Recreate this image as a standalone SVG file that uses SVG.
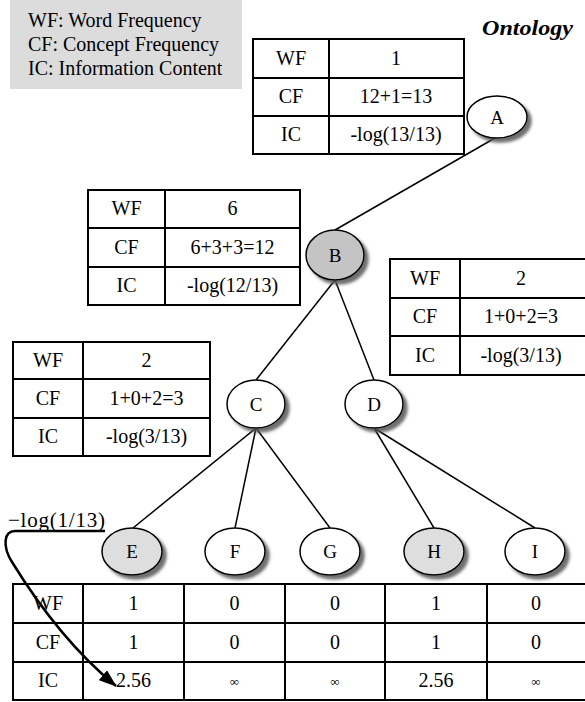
<svg xmlns="http://www.w3.org/2000/svg" width="585" height="702" viewBox="0 0 585 702" font-family="'Liberation Serif', 'DejaVu Serif', serif">
<style>
text{font-family:'Liberation Serif','DejaVu Serif',serif;fill:#000}
.t{font-size:20px;text-anchor:middle}
.n{font-size:19px;text-anchor:middle}
.inf{font-size:13px;text-anchor:middle}
.leg{font-size:20px}
.tb{fill:#fff;stroke:#000;stroke-width:2}
.gl{stroke:#000;stroke-width:2;fill:none}
.nd{stroke:#000;stroke-width:1.5;fill:#fff}
.g1{fill:#c4c4c4}
.g2{fill:#dedede}
.cn{stroke:#000;stroke-width:1.5;fill:none}
</style>
<defs>
<filter id="sh" x="-20%" y="-20%" width="150%" height="150%">
<feDropShadow dx="4" dy="4" stdDeviation="1.5" flood-color="#555" flood-opacity="0.85"/>
</filter>
<marker id="ah" markerWidth="18" markerHeight="13" refX="17" refY="6.5" orient="auto" markerUnits="userSpaceOnUse">
<path d="M0,0 L18,6.5 L0,13 z" fill="#000"/>
</marker>
</defs>

<g id="legend">
<rect x="10" y="0" width="232" height="89" fill="#dcdcdc"/>
<text class="leg" x="28" y="27">WF: Word Frequency</text>
<text class="leg" x="28" y="51">CF: Concept Frequency</text>
<text class="leg" x="28" y="75">IC: Information Content</text>
</g>

<g id="title">
<text x="482" y="35" font-size="21" font-weight="bold" font-style="italic" textLength="91" lengthAdjust="spacingAndGlyphs">Ontology</text>
</g>

<g id="connectors">
<line class="cn" x1="495" y1="138" x2="335" y2="230"/>
<line class="cn" x1="335" y1="280" x2="256" y2="380"/>
<line class="cn" x1="335" y1="280" x2="374" y2="380"/>
<line class="cn" x1="256" y1="428" x2="133" y2="528"/>
<line class="cn" x1="256" y1="428" x2="235" y2="528"/>
<line class="cn" x1="256" y1="428" x2="330" y2="528"/>
<line class="cn" x1="374" y1="428" x2="434" y2="528"/>
<line class="cn" x1="374" y1="428" x2="535" y2="528"/>
<path d="M105,531 H15 C4,531 2,546 12,562 Q60,640 116,686" stroke="#000" stroke-width="2.5" fill="none" marker-end="url(#ah)"/>
</g>

<g id="tableA">
<rect class="tb" x="253" y="39" width="211" height="115"/>
<line class="gl" x1="329" y1="39" x2="329" y2="154"/>
<line class="gl" x1="253" y1="78" x2="464" y2="78"/>
<line class="gl" x1="253" y1="116" x2="464" y2="116"/>
<text class="t" x="291" y="65">WF</text><text class="t" x="396" y="65">1</text>
<text class="t" x="291" y="103">CF</text><text class="t" x="396" y="103">12+1=13</text>
<text class="t" x="291" y="141">IC</text><text class="t" x="396" y="141">-log(13/13)</text>
</g>

<g id="tableB">
<rect class="tb" x="88" y="190" width="212" height="115"/>
<line class="gl" x1="165" y1="190" x2="165" y2="305"/>
<line class="gl" x1="88" y1="228" x2="300" y2="228"/>
<line class="gl" x1="88" y1="267" x2="300" y2="267"/>
<text class="t" x="126.5" y="215">WF</text><text class="t" x="232.5" y="215">6</text>
<text class="t" x="126.5" y="254">CF</text><text class="t" x="232.5" y="254">6+3+3=12</text>
<text class="t" x="126.5" y="292">IC</text><text class="t" x="232.5" y="292">-log(12/13)</text>
</g>

<g id="tableD">
<rect class="tb" x="390" y="259" width="200" height="116"/>
<line class="gl" x1="460" y1="259" x2="460" y2="375"/>
<line class="gl" x1="390" y1="298" x2="590" y2="298"/>
<line class="gl" x1="390" y1="336" x2="590" y2="336"/>
<text class="t" x="425" y="285">WF</text><text class="t" x="521" y="285">2</text>
<text class="t" x="425" y="323">CF</text><text class="t" x="521" y="323">1+0+2=3</text>
<text class="t" x="425" y="362">IC</text><text class="t" x="521" y="362">-log(3/13)</text>
</g>

<g id="tableC">
<rect class="tb" x="13" y="342" width="197" height="114"/>
<line class="gl" x1="83" y1="342" x2="83" y2="456"/>
<line class="gl" x1="13" y1="379" x2="210" y2="379"/>
<line class="gl" x1="13" y1="418" x2="210" y2="418"/>
<text class="t" x="48" y="367">WF</text><text class="t" x="146.5" y="367">2</text>
<text class="t" x="48" y="405">CF</text><text class="t" x="146.5" y="405">1+0+2=3</text>
<text class="t" x="48" y="443">IC</text><text class="t" x="146.5" y="443">-log(3/13)</text>
</g>

<g id="nodeA"><ellipse class="nd" cx="497" cy="117" rx="30" ry="21" filter="url(#sh)"/><text class="n" x="497" y="124">A</text></g>
<g id="nodeB"><ellipse class="nd g1" cx="335" cy="255" rx="29" ry="25" filter="url(#sh)"/><text class="n" x="335" y="262">B</text></g>
<g id="nodeC"><ellipse class="nd" cx="256" cy="404" rx="29" ry="24" filter="url(#sh)"/><text class="n" x="256" y="411">C</text></g>
<g id="nodeD"><ellipse class="nd" cx="374" cy="404" rx="29" ry="24" filter="url(#sh)"/><text class="n" x="374" y="411">D</text></g>
<g id="nodeE"><ellipse class="nd g2" cx="132" cy="551.5" rx="30" ry="23.5" filter="url(#sh)"/><text class="n" x="132" y="558">E</text></g>
<g id="nodeF"><ellipse class="nd" cx="235" cy="551.5" rx="30" ry="23.5" filter="url(#sh)"/><text class="n" x="235" y="558">F</text></g>
<g id="nodeG"><ellipse class="nd" cx="330" cy="551.5" rx="30" ry="23.5" filter="url(#sh)"/><text class="n" x="330" y="558">G</text></g>
<g id="nodeH"><ellipse class="nd g2" cx="434" cy="551.5" rx="30" ry="23.5" filter="url(#sh)"/><text class="n" x="434" y="558">H</text></g>
<g id="nodeI"><ellipse class="nd" cx="535" cy="551.5" rx="30" ry="23.5" filter="url(#sh)"/><text class="n" x="535" y="558">I</text></g>

<g id="leafTable">
<rect x="13" y="584" width="577" height="116" fill="none" stroke="#000" stroke-width="2"/>
<line class="gl" x1="83" y1="584" x2="83" y2="700"/>
<line class="gl" x1="184" y1="584" x2="184" y2="700"/>
<line class="gl" x1="285" y1="584" x2="285" y2="700"/>
<line class="gl" x1="385" y1="584" x2="385" y2="700"/>
<line class="gl" x1="487" y1="584" x2="487" y2="700"/>
<line class="gl" x1="13" y1="623" x2="590" y2="623"/>
<line class="gl" x1="13" y1="662" x2="590" y2="662"/>
<text class="t" x="48" y="610">WF</text>
<text class="t" x="133.5" y="610">1</text><text class="t" x="234.5" y="610">0</text><text class="t" x="335" y="610">0</text><text class="t" x="436" y="610">1</text><text class="t" x="536" y="610">0</text>
<text class="t" x="48" y="649">CF</text>
<text class="t" x="133.5" y="649">1</text><text class="t" x="234.5" y="649">0</text><text class="t" x="335" y="649">0</text><text class="t" x="436" y="649">1</text><text class="t" x="536" y="649">0</text>
<text class="t" x="48" y="687">IC</text>
<text class="t" x="133.5" y="687">2.56</text><text class="inf" x="234.5" y="686">∞</text><text class="inf" x="335" y="686">∞</text><text class="t" x="436" y="687">2.56</text><text class="inf" x="536" y="686">∞</text>
</g>

<g id="annotation">
<text x="8" y="527" font-size="21" textLength="97" lengthAdjust="spacing">−log(1/13)</text>
</g>
</svg>
